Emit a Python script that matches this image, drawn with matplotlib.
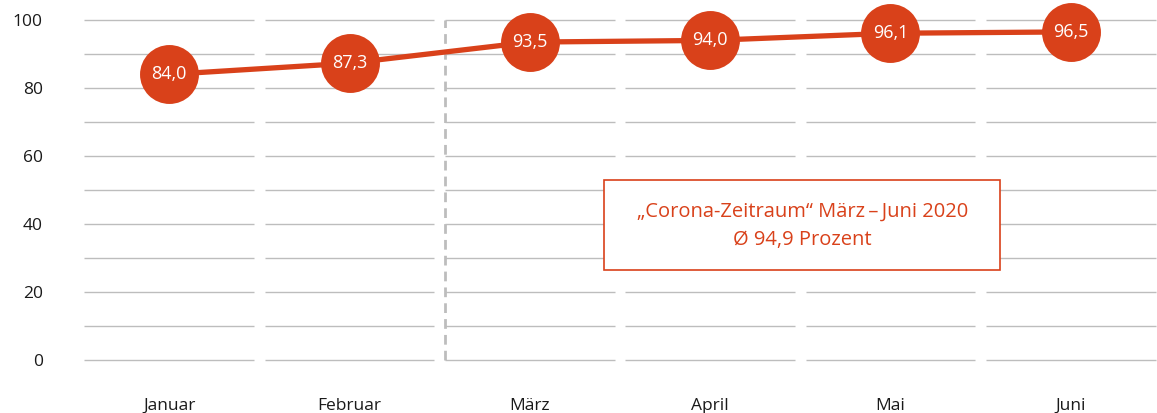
import matplotlib.pyplot as plt
from matplotlib.patches import Rectangle

plt.rcParams['font.family'] = ['Open Sans', 'DejaVu Sans']

months = ['Januar', 'Februar', 'März', 'April', 'Mai', 'Juni']
values = [84.0, 87.3, 93.5, 94.0, 96.1, 96.5]
labels = ['84,0', '87,3', '93,5', '94,0', '96,1', '96,5']
box_text = '„Corona-Zeitraum“ März\u2009–\u2009Juni 2020\nØ 94,9 Prozent'

red = '#d9411a'
grid = '#bdbdbd'

W, H = 1157, 413
fig = plt.figure(figsize=(W / 100, H / 100), dpi=100)
# axes span a bit wider than the figure so the last column reaches the edge
ax = fig.add_axes([79 / W, 1 - 360 / H, (1161 - 79) / W, 340 / H])

x = list(range(len(months)))

# segmented horizontal grid, one piece per month
for i in x:
    left = i - 0.47
    right = i + 0.47
    if i == 2:
        left = 1.53
    ax.hlines(range(0, 101, 10), left, right, color=grid, lw=1.0, zorder=1, clip_on=False)

ax.vlines(1.53, 0, 100, color=grid, lw=2, linestyles=(0, (3.5, 2.2)), zorder=1, clip_on=False)

ax.plot(x, values, color=red, lw=3.8, zorder=3, clip_on=False)
ax.scatter(x, values, s=1800, color=red, zorder=4, clip_on=False, linewidths=0)
for xi, v, t in zip(x, values, labels):
    ax.text(xi, v, t, color='white', fontsize=13, ha='center', va='center', zorder=5)

ax.add_patch(Rectangle((2.41, 26.5), 2.195, 26.4, fc='white', ec=red, lw=1.2, zorder=4))
ax.text(3.51, 39.4, box_text, color=red, fontsize=14.5, ha='center', va='center',
        linespacing=1.55, zorder=5)

ax.set_xlim(-0.5, 5.5)
ax.set_ylim(0, 100)
ax.set_xticks(x)
ax.set_xticklabels(months)
ax.set_yticks(range(0, 101, 20))
ax.tick_params(axis='both', length=0, labelsize=12.5, colors='#1a1a1a')
ax.tick_params(axis='y', pad=26)
ax.tick_params(axis='x', pad=27)
for s in ax.spines.values():
    s.set_visible(False)

fig.savefig('out.png', dpi=100)
